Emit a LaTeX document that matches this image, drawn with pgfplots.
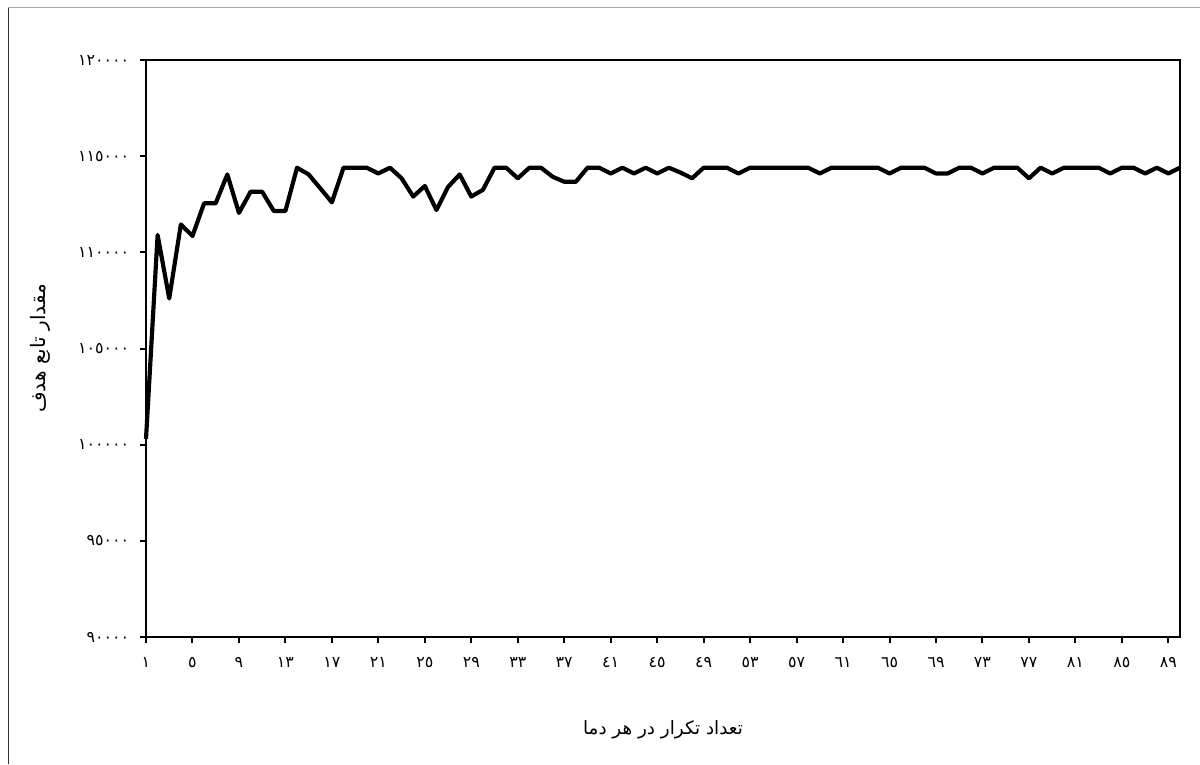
\documentclass[border=0pt]{standalone}
\usepackage{fontspec}
\usepackage{pgfplots}
\pgfplotsset{compat=1.18}
\TeXXeTstate=1
\newfontfamily\arabicfont[Script=Arabic]{DejaVu Sans}

\begin{document}
\begin{tikzpicture}
% page = 1200 x 764 px, 1 px = 0.6pt
\path[use as bounding box] (0pt,0pt) rectangle (720pt,458.4pt);
\draw[gray!70, line width=0.6pt] (4.8pt,453.6pt) -- (720pt,453.6pt);
\draw[black!80, line width=0.5pt] (4.8pt,0pt) -- (4.8pt,453.6pt);

\begin{axis}[
    at={(87.6pt,76.2pt)}, anchor=south west,
    scale only axis,
    width=620.4pt, height=346.2pt,
    xmin=1, xmax=90,
    ymin=90000, ymax=120000,
    axis line style={line width=1.4pt},
    tick style={line width=1.2pt, black},
    tick align=outside,
    major tick length=3.6pt,
    xtick pos=bottom, ytick pos=left,
    xtick={1,5,...,89},
    xticklabels={١,٥,٩,١٣,١٧,٢١,٢٥,٢٩,٣٣,٣٧,٤١,٤٥,٤٩,٥٣,٥٧,٦١,٦٥,٦٩,٧٣,٧٧,٨١,٨٥,٨٩},
    ytick={90000,95000,100000,105000,110000,115000,120000},
    yticklabels={٩٠٠٠٠,٩٥٠٠٠,١٠٠٠٠٠,١٠٥٠٠٠,١١٠٠٠٠,١١٥٠٠٠,١٢٠٠٠٠},
    ticklabel style={font=\arabicfont\fontsize{9.5}{11}\selectfont},
    xticklabel style={yshift=-5pt},
    yticklabel style={xshift=-3pt},
    scaled y ticks=false,
    xlabel={\arabicfont\beginR تعداد تکرار در هر دما\endR},
    ylabel={\arabicfont\beginR مقدار تابع هدف\endR},
    xlabel style={font=\arabicfont\fontsize{11}{13}\selectfont, yshift=-25pt},
    ylabel style={font=\arabicfont\fontsize{12}{14}\selectfont, yshift=10pt},
    clip=false,
]
\addplot[black, line width=2.5pt, line join=round, mark=none] coordinates {
(1,100300) (2,110900) (3,107600) (4,111450) (5,110850)
(6,112550) (7,112550) (8,114050) (9,112050) (10,113150)
(11,113150) (12,112150) (13,112150) (14,114400) (15,114050)
(16,113330) (17,112600) (18,114400) (19,114400) (20,114400)
(21,114100) (22,114400) (23,113850) (24,112900) (25,113450)
(26,112200) (27,113400) (28,114050) (29,112900) (30,113250)
(31,114400) (32,114400) (33,113850) (34,114400) (35,114400)
(36,113930) (37,113670) (38,113670) (39,114400) (40,114400)
(41,114100) (42,114400) (43,114100) (44,114400) (45,114100)
(46,114400) (47,114150) (48,113850) (49,114400) (50,114400)
(51,114400) (52,114100) (53,114400) (54,114400) (55,114400)
(56,114400) (57,114400) (58,114400) (59,114100) (60,114400)
(61,114400) (62,114400) (63,114400) (64,114400) (65,114100)
(66,114400) (67,114400) (68,114400) (69,114100) (70,114100)
(71,114400) (72,114400) (73,114100) (74,114400) (75,114400)
(76,114400) (77,113850) (78,114400) (79,114100) (80,114400)
(81,114400) (82,114400) (83,114400) (84,114100) (85,114400)
(86,114400) (87,114100) (88,114400) (89,114100) (90,114400)
};
\end{axis}
\end{tikzpicture}
\end{document}
